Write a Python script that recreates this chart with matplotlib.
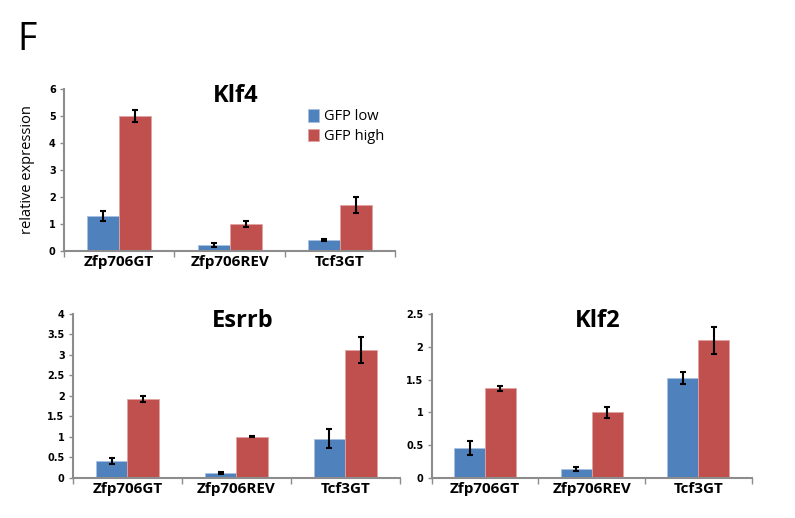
import matplotlib
matplotlib.use("Agg")
import matplotlib.pyplot as plt
import numpy as np

plt.rcParams['font.family'] = ['Open Sans', 'DejaVu Sans']

categories = ["Zfp706GT", "Zfp706REV", "Tcf3GT"]
series_names = ["GFP low", "GFP high"]

klf4_low = [1.3, 0.22, 0.4]
klf4_low_err = [0.2, 0.07, 0.04]
klf4_high = [5.0, 1.0, 1.7]
klf4_high_err = [0.22, 0.1, 0.3]

esrrb_low = [0.4, 0.12, 0.95]
esrrb_low_err = [0.07, 0.02, 0.23]
esrrb_high = [1.92, 1.0, 3.12]
esrrb_high_err = [0.08, 0.01, 0.32]

klf2_low = [0.45, 0.14, 1.52]
klf2_low_err = [0.11, 0.03, 0.09]
klf2_high = [1.37, 1.0, 2.1]
klf2_high_err = [0.04, 0.08, 0.2]

klf4_ticks = [0, 1, 2, 3, 4, 5, 6]
esrrb_ticks = [0, 0.5, 1, 1.5, 2, 2.5, 3, 3.5, 4]
klf2_ticks = [0, 0.5, 1, 1.5, 2, 2.5]

BLUE = "#4F81BD"
RED = "#C0504D"
SPINE = "#8c8c8c"

fig = plt.figure(figsize=(7.95, 5.18), dpi=100)


def panel(rect, title, low, low_err, high, high_err, yticks, ylabel=None, legend=False):
    ax = fig.add_axes(rect)
    x = np.arange(len(categories))
    w = 0.29
    ekw = dict(ecolor="black", elinewidth=1.5, capsize=2.2, capthick=1.5)
    ax.bar(x - w / 2, low, w, color=BLUE, edgecolor="#a9c1e0", linewidth=0.6,
           yerr=low_err, error_kw=ekw, label=series_names[0])
    ax.bar(x + w / 2, high, w, color=RED, edgecolor="#e0a3a1", linewidth=0.6,
           yerr=high_err, error_kw=ekw, label=series_names[1])
    ax.set_xlim(-0.5, len(categories) - 0.5)
    ax.set_ylim(0, yticks[-1])
    ax.set_yticks(yticks)
    ax.set_yticklabels([f"{t:g}" for t in yticks], fontsize=7, fontweight="bold",
                       family=["DejaVu Sans"])
    ax.set_xticks(x)
    ax.set_xticklabels(categories, fontsize=11, fontweight="bold")
    ax.set_xticks(np.arange(len(categories) + 1) - 0.5, minor=True)
    ax.tick_params(axis="x", which="major", length=0, pad=3)
    ax.tick_params(axis="x", which="minor", length=4, color=SPINE, width=1)
    ax.tick_params(axis="y", length=3, color=SPINE, width=1, pad=3)
    for s in ("top", "right"):
        ax.spines[s].set_visible(False)
    for s in ("left", "bottom"):
        ax.spines[s].set_color(SPINE)
        ax.spines[s].set_linewidth(1.5)
    ax.text(0.52, 1.03, title, transform=ax.transAxes, ha="center", va="top",
            fontsize=17, fontweight="bold")
    if ylabel:
        ax.set_ylabel(ylabel, fontsize=10.5, labelpad=10)
    if legend:
        ax.legend(loc="upper left", bbox_to_anchor=(0.72, 0.91), frameon=False,
                  fontsize=10.5, handlelength=0.75, handleheight=0.9,
                  handletextpad=0.35, labelspacing=0.3, borderaxespad=0)
    return ax


panel([0.0805, 0.5154, 0.4165, 0.3128], "Klf4", klf4_low, klf4_low_err,
      klf4_high, klf4_high_err, klf4_ticks, ylabel="relative expression", legend=True)
panel([0.0918, 0.0778, 0.411, 0.316], "Esrrb", esrrb_low, esrrb_low_err,
      esrrb_high, esrrb_high_err, esrrb_ticks)
panel([0.543, 0.0778, 0.4025, 0.3154], "Klf2", klf2_low, klf2_low_err,
      klf2_high, klf2_high_err, klf2_ticks)

fig.text(0.022, 0.96, "F", fontsize=27, ha="left", va="top")

fig.savefig("out.png", dpi=100)
